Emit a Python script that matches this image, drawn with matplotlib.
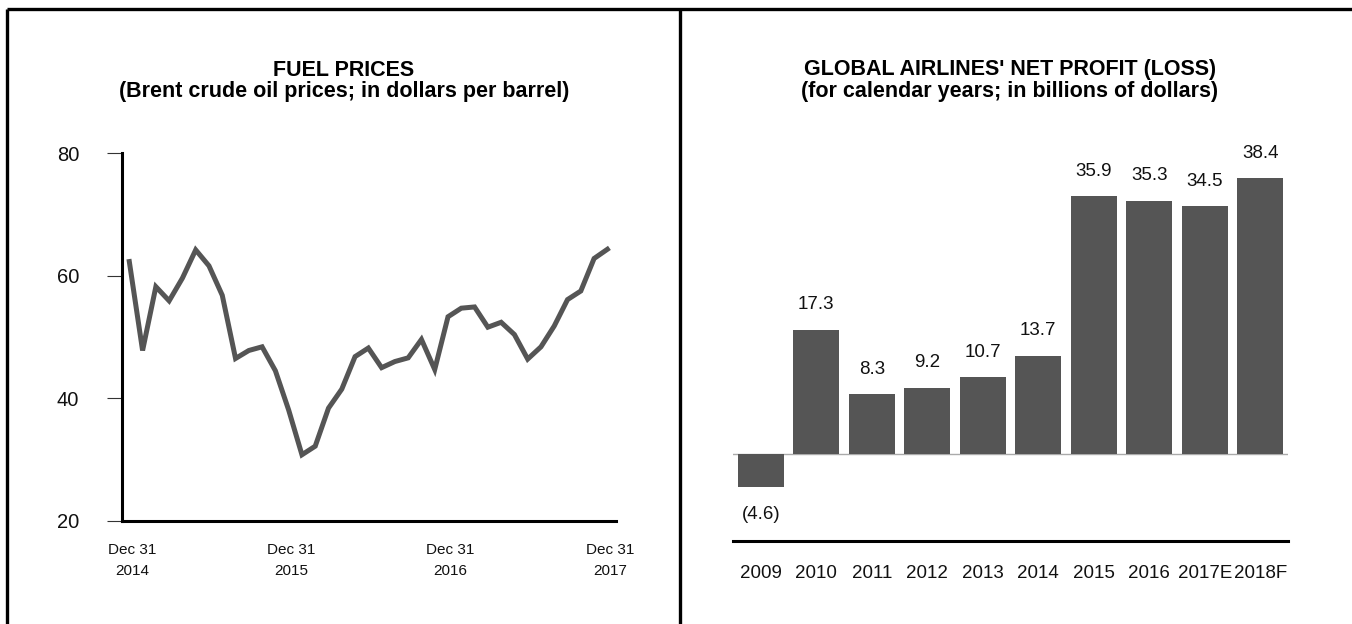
import matplotlib
matplotlib.use("Agg")
import matplotlib.pyplot as plt
from matplotlib.lines import Line2D
from matplotlib.transforms import blended_transform_factory

plt.rcParams['font.family'] = ['Liberation Sans', 'DejaVu Sans']

# Monthly Brent crude prices, Dec 2014 .. Dec 2017 (USD per barrel)
brent_prices = [
    62.3, 47.8, 58.2, 55.9, 59.6, 64.2, 61.6, 56.8, 46.5, 47.8, 48.4, 44.5,
    38.1, 30.8, 32.2, 38.4, 41.5, 46.8, 48.2, 45.0, 46.0, 46.6, 49.6, 44.7,
    53.3, 54.7, 54.9, 51.6, 52.4, 50.4, 46.4, 48.4, 51.8, 56.1, 57.5, 62.8,
    64.3,
]
date_tick_months = [0, 12, 24, 36]
date_tick_labels = ["Dec 31\n2014", "Dec 31\n2015", "Dec 31\n2016", "Dec 31\n2017"]
price_ticks = [20, 40, 60, 80]

# Global airline net profit (loss), billions of dollars
years = ["2009", "2010", "2011", "2012", "2013", "2014", "2015", "2016", "2017E", "2018F"]
net_profit = [-4.6, 17.3, 8.3, 9.2, 10.7, 13.7, 35.9, 35.3, 34.5, 38.4]

W, H = 1352, 624
fig = plt.figure(figsize=(W / 100, H / 100), dpi=100)
fig.patch.set_facecolor("white")

DARK = "#555555"


def fx(px):
    return px / W


def fy(py):
    return 1 - py / H


# ---- panel frame ----
frame_kw = dict(color="black", lw=2.4, solid_capstyle="butt")
fig.add_artist(Line2D([fx(7), 1.0], [fy(9), fy(9)], transform=fig.transFigure, **frame_kw))
fig.add_artist(Line2D([fx(7), fx(7)], [0, fy(9)], transform=fig.transFigure, **frame_kw))
fig.add_artist(Line2D([fx(680), fx(680)], [0, fy(9)], transform=fig.transFigure, **frame_kw))

# ---- left: fuel prices line chart ----
ax1 = fig.add_axes([fx(122), fy(521), fx(616 - 122), (521 - 153) / H])
months = list(range(len(brent_prices)))
ax1.plot(months, brent_prices, color=DARK, lw=3.6, solid_joinstyle="miter")
ax1.set_xlim(-0.55, 36.65)
ax1.set_ylim(20, 80)
for s in ("top", "right"):
    ax1.spines[s].set_visible(False)
for s in ("left", "bottom"):
    ax1.spines[s].set_linewidth(2.2)
    ax1.spines[s].set_color("black")
ax1.set_yticks(price_ticks)
ax1.set_yticklabels([str(t) for t in price_ticks], fontsize=14.5, color="#111111")
ax1.tick_params(axis="y", direction="out", length=10.8, width=0.8, color="#333333", pad=20)
ax1.set_xticks([])
trans1 = blended_transform_factory(ax1.transData, ax1.transAxes)
for m, lab in zip(date_tick_months, date_tick_labels):
    ax1.text(m + 0.2, -(543 - 521) / 368, lab, transform=trans1, ha="center", va="top",
             fontsize=11, linespacing=1.65, color="#111111")

TITLE_SIZE = 15.5
fig.text(fx(344), fy(70), "FUEL PRICES", ha="center", va="center",
         fontsize=TITLE_SIZE, fontweight="bold")
fig.text(fx(344), fy(91), "(Brent crude oil prices; in dollars per barrel)", ha="center",
         va="center", fontsize=TITLE_SIZE, fontweight="bold")

# ---- right: airline net profit bar chart ----
ax2 = fig.add_axes([fx(733), fy(540.7), fx(1288 - 733), (540.7 - 166.8) / H])
xs = list(range(len(years)))
ax2.bar(xs, net_profit, width=0.82, color=DARK, zorder=2)
ax2.axhline(0, color="#aaaaaa", lw=1.0, zorder=1)
ax2.set_xlim(-0.5, len(years) - 0.5)
ax2.set_ylim(-12.07, 40)
for s in ("top", "right", "left"):
    ax2.spines[s].set_visible(False)
ax2.spines["bottom"].set_linewidth(2.2)
ax2.spines["bottom"].set_color("black")
ax2.set_xticks([])
ax2.set_yticks([])
trans2 = blended_transform_factory(ax2.transData, ax2.transAxes)
for x, lab in zip(xs, years):
    ax2.text(x, -(573 - 540.7) / 373.9, lab, transform=trans2, ha="center", va="center",
             fontsize=13.5, color="#111111")
for x, v in zip(xs, net_profit):
    txt = f"{v:.1f}" if v >= 0 else f"({abs(v):.1f})"
    off = 18 if v >= 0 else -20
    ax2.annotate(txt, (x, v), xytext=(0, off), textcoords="offset points",
                 ha="center", va="center", fontsize=13.5, color="#111111",
                 annotation_clip=False)

fig.text(fx(1010), fy(70), "GLOBAL AIRLINES' NET PROFIT (LOSS)", ha="center", va="center",
         fontsize=TITLE_SIZE, fontweight="bold")
fig.text(fx(1010), fy(91), "(for calendar years; in billions of dollars)", ha="center",
         va="center", fontsize=TITLE_SIZE, fontweight="bold")

fig.savefig("out.png", dpi=100, facecolor="white")
